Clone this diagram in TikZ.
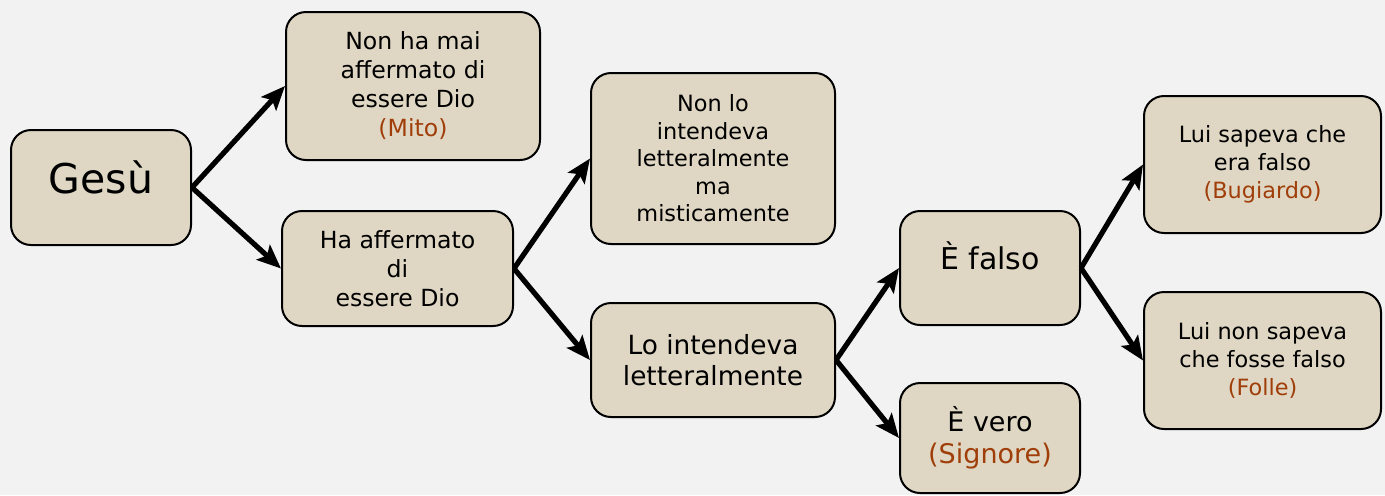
\documentclass[tikz,border=0pt]{standalone}
\usepackage{fontspec}
\setmainfont{DejaVu Sans}
\usepackage{tikz}
\usetikzlibrary{shapes,arrows,arrows.meta}
\definecolor{boxfill}{RGB}{223,215,195}
\definecolor{bgray}{RGB}{242,242,242}
\definecolor{rust}{RGB}{160,62,10}

\begin{document}
\begin{tikzpicture}[x=0.5pt,y=-0.5pt,
  box/.style={draw,rounded corners=10pt,fill=boxfill,line width=1pt,align=center,
    font=\fontsize{11.8}{14.5}\selectfont},
  arr/.style={-{Stealth[length=12pt,width=10pt,inset=2.5pt]},line width=2.6pt}]
\fill[bgray] (0,0) rectangle (1385,495);
\node[box,minimum width=90pt,minimum height=57.5pt,text depth=10pt,
  font=\fontsize{20.5}{24}\selectfont] (gesu) at (101,187.5) {Gesù};
\node[box,minimum width=127pt,minimum height=74pt] (mito) at (413,86)
  {Non ha mai\\affermato di\\essere Dio\\\textcolor{rust}{(Mito)}};
\node[box,minimum width=115.5pt,minimum height=57.5pt] (disse) at (397.5,268.5)
  {Ha affermato\\di\\essere Dio};
\node[box,minimum width=122pt,minimum height=85.5pt,
  font=\fontsize{11.2}{13.75}\selectfont] (mistico) at (713,158.5)
  {Non lo\\intendeva\\letteralmente\\ma\\misticamente};
\node[box,minimum width=122pt,minimum height=57pt,
  font=\fontsize{13.2}{15.5}\selectfont] (lettera) at (713,360)
  {Lo intendeva\\letteralmente};
\node[box,minimum width=90pt,minimum height=57pt,text depth=12pt,
  font=\fontsize{15}{18}\selectfont] (falso) at (990,268) {È falso};
\node[box,minimum width=90pt,minimum height=55pt,
  font=\fontsize{13.5}{16}\selectfont] (vero) at (990,438)
  {È vero\\\textcolor{rust}{(Signore)}};
\node[box,minimum width=118.5pt,minimum height=68.5pt,
  font=\fontsize{11.2}{14}\selectfont] (bugia) at (1262.5,164.5)
  {Lui sapeva che\\era falso\\\textcolor{rust}{(Bugiardo)}};
\node[box,minimum width=118.5pt,minimum height=68.5pt,
  font=\fontsize{11.2}{14}\selectfont] (folle) at (1262.5,360.5)
  {Lui non sapeva\\che fosse falso\\\textcolor{rust}{(Folle)}};
\path[arr]
  (gesu.east) edge (mito.west)
  (gesu.east) edge (disse.west)
  (disse.east) edge (mistico.west)
  (disse.east) edge (lettera.west)
  (lettera.east) edge (falso.west)
  (lettera.east) edge (vero.west)
  (falso.east) edge (bugia.west)
  (falso.east) edge (folle.west)
;
\end{tikzpicture}
\end{document}
